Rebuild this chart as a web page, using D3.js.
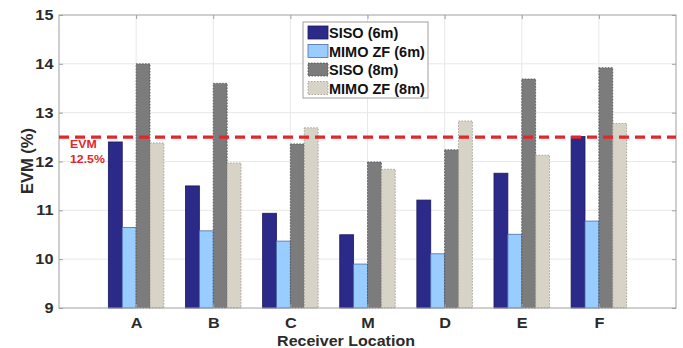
<!DOCTYPE html>
<html>
<head>
<meta charset="utf-8">
<script src="https://cdn.jsdelivr.net/npm/d3@7"></script>
<style>
  html, body { margin: 0; padding: 0; background: #fff; }
  svg { display: block; font-family: "Liberation Sans", Arial, sans-serif; }
</style>
</head>
<body>
<svg id="chart" width="683" height="348"></svg>
<script>
// Receiver locations along the x axis
const categories = ["A", "B", "C", "M", "D", "E", "F"];
// Series names shown in the legend
const seriesNames = ["SISO (6m)", "MIMO ZF (6m)", "SISO (8m)", "MIMO ZF (8m)"];
// EVM (%) per location for each series
const siso6m   = [12.40, 11.50, 10.94, 10.50, 11.21, 11.76, 12.51];
const mimo6m   = [10.65, 10.58, 10.37,  9.90, 10.11, 10.51, 10.78];
const siso8m   = [14.00, 13.60, 12.36, 11.99, 12.24, 13.69, 13.92];
const mimo8m   = [12.38, 11.97, 12.69, 11.84, 12.83, 12.13, 12.78];
const yTicks   = [9, 10, 11, 12, 13, 14, 15];
const evmLimit = 12.5;
const evmLabel = ["EVM", "12.5%"];

const seriesValues = [siso6m, mimo6m, siso8m, mimo8m];
const fills   = ["#2c2a88", "#99ccff", "#7c7c7c", "#d7d3c6"];
const strokes = ["#1c1a60", "#4a6fa8", "#4a4a4a", "#9a968c"];
const dashes  = [null, null, "1.5,1.5", "1.5,1.5"];

// labels are drawn slightly wide
const stretch = "scale(1.12,1)";

const svg = d3.select("#chart");
const plotL = 59, plotR = 676, plotT = 15, plotB = 308;

const x = d3.scaleLinear().domain([0, categories.length + 1]).range([plotL, plotR]);
const y = d3.scaleLinear().domain([9, 15]).range([plotB, plotT]);
// position of each series inside a group, in x-data units
const inner = d3.scaleBand().domain(d3.range(seriesNames.length)).range([-0.36, 0.36]);

// grid
const grid = svg.append("g");
grid.selectAll("line.gy").data(yTicks.slice(1, -1)).join("line")
  .attr("x1", plotL).attr("x2", plotR)
  .attr("y1", d => y(d)).attr("y2", d => y(d))
  .attr("stroke", "#e8e8e8").attr("stroke-width", 1);
grid.selectAll("line.gx").data(categories).join("line")
  .attr("x1", (d, i) => x(i + 1)).attr("x2", (d, i) => x(i + 1))
  .attr("y1", plotT).attr("y2", plotB)
  .attr("stroke", "#e8e8e8").attr("stroke-width", 1);

// bars
const rows = [];
categories.forEach((c, i) => seriesValues.forEach((vals, s) => rows.push({ i, s, v: vals[i] })));
svg.append("g").selectAll("rect").data(rows).join("rect")
  .attr("x", d => x(d.i + 1 + inner(d.s)))
  .attr("width", d => x(inner.bandwidth()) - x(0))
  .attr("y", d => y(d.v))
  .attr("height", d => y(9) - y(d.v))
  .attr("fill", d => fills[d.s])
  .attr("stroke", d => strokes[d.s])
  .attr("stroke-width", 0.8)
  .attr("stroke-dasharray", d => dashes[d.s]);

// axes box
svg.append("rect").attr("x", plotL).attr("y", plotT)
  .attr("width", plotR - plotL).attr("height", plotB - plotT)
  .attr("fill", "none").attr("stroke", "#a0a0a0").attr("stroke-width", 1);

// left / right ticks (pointing inward)
const yAxisL = d3.axisLeft(y).tickValues(yTicks).tickSize(-4).tickPadding(5).tickFormat(d3.format("d"));
const gL = svg.append("g").attr("transform", `translate(${plotL},0)`).call(yAxisL);
gL.select(".domain").remove();
gL.selectAll("line").attr("stroke", "#a0a0a0");
gL.selectAll("text").attr("font-size", 14.5).attr("font-weight", "bold").attr("fill", "#2a2a2a")
  .attr("transform", stretch);

const yAxisR = d3.axisRight(y).tickValues(yTicks).tickSize(-4).tickFormat("");
const gR = svg.append("g").attr("transform", `translate(${plotR},0)`).call(yAxisR);
gR.select(".domain").remove();
gR.selectAll("line").attr("stroke", "#a0a0a0");

// bottom / top ticks at each location
const xAxisB = d3.axisBottom(x).tickValues(d3.range(1, categories.length + 1))
  .tickSize(-4).tickPadding(10).tickFormat(d => categories[d - 1]);
const gB = svg.append("g").attr("transform", `translate(0,${plotB})`).call(xAxisB);
gB.select(".domain").remove();
gB.selectAll("line").attr("stroke", "#a0a0a0");
gB.selectAll("text").attr("font-size", 14.5).attr("font-weight", "bold").attr("fill", "#2a2a2a")
  .attr("transform", stretch);

const xAxisT = d3.axisTop(x).tickValues(d3.range(1, categories.length + 1)).tickSize(-4).tickFormat("");
const gT = svg.append("g").attr("transform", `translate(0,${plotT})`).call(xAxisT);
gT.select(".domain").remove();
gT.selectAll("line").attr("stroke", "#a0a0a0");

// EVM limit line
svg.append("line")
  .attr("x1", plotL).attr("x2", plotR)
  .attr("y1", y(evmLimit)).attr("y2", y(evmLimit))
  .attr("stroke", "#e3262b").attr("stroke-width", 3.2)
  .attr("stroke-dasharray", "10,6");
svg.append("g").attr("transform", `translate(70,${y(evmLimit) + 11}) ${stretch}`)
  .append("text")
  .selectAll("tspan").data(evmLabel).join("tspan")
  .attr("x", 0).attr("dy", (d, i) => i === 0 ? 0 : 15)
  .text(d => d)
  .attr("font-size", 11).attr("font-weight", "bold").attr("fill", "#e3262b");

// axis titles
svg.append("g").attr("transform", `translate(346,345.5) ${stretch}`)
  .append("text")
  .attr("text-anchor", "middle").attr("font-size", 14.3).attr("font-weight", "bold").attr("fill", "#2a2a2a")
  .text("Receiver Location");
svg.append("text").attr("transform", "translate(33,161) rotate(-90)")
  .attr("text-anchor", "middle").attr("font-size", 16.5).attr("font-weight", "bold").attr("fill", "#2a2a2a")
  .text("EVM (%)");

// legend
const lg = svg.append("g").attr("transform", "translate(303,22)");
lg.append("rect").attr("width", 125).attr("height", 76)
  .attr("fill", "#fff").attr("stroke", "#a0a0a0").attr("stroke-width", 1);
const items = lg.selectAll("g.item").data(seriesNames).join("g")
  .attr("transform", (d, i) => `translate(5,${4 + i * 18.5})`);
items.append("rect").attr("width", 20).attr("height", 13)
  .attr("fill", (d, i) => fills[i]).attr("stroke", (d, i) => strokes[i])
  .attr("stroke-width", 0.8).attr("stroke-dasharray", (d, i) => dashes[i]);
items.append("text").attr("x", 21).attr("y", 12)
  .attr("font-size", 14.5).attr("font-weight", "bold").attr("fill", "#111")
  .text(d => d);
</script>
</body>
</html>
